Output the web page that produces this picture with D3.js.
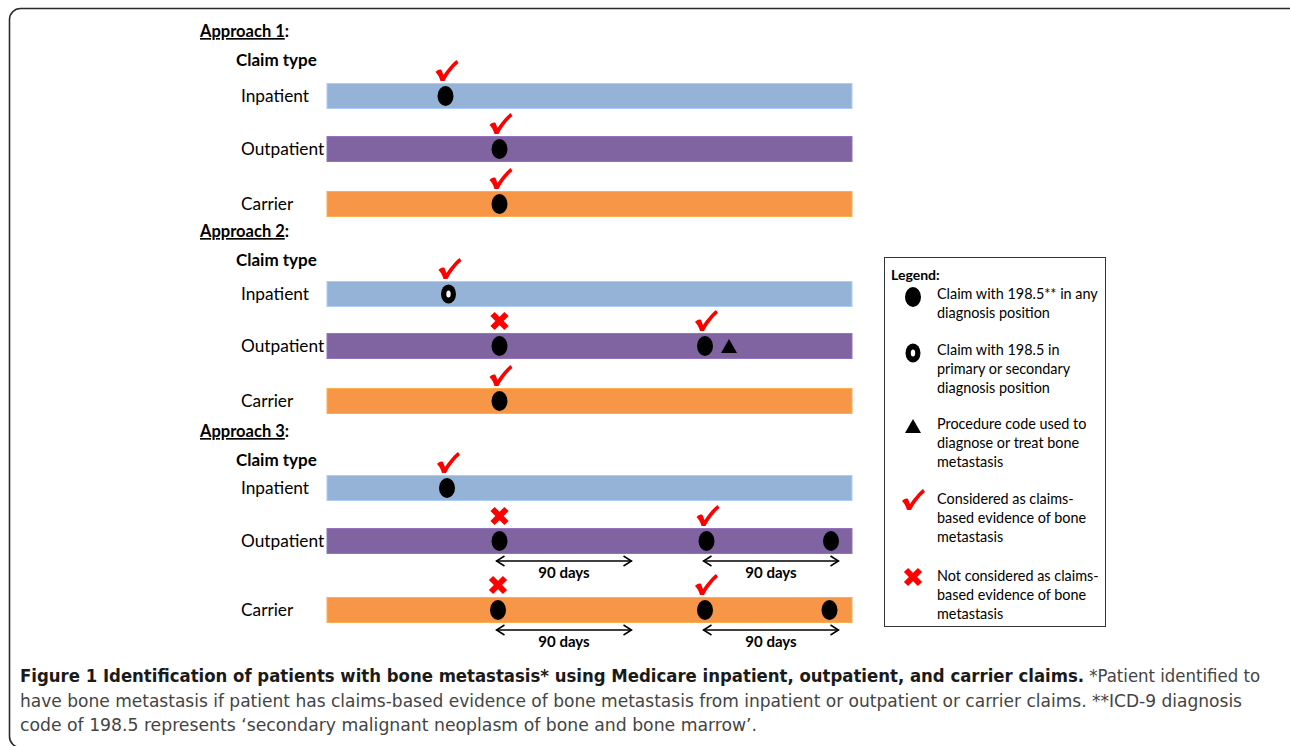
<!DOCTYPE html>
<html>
<head>
<meta charset="utf-8">
<script src="https://cdn.jsdelivr.net/npm/d3@7/dist/d3.min.js"></script>
<style>
  body { margin: 0; background: #fff; }
  svg { display: block; }
  .lbl { font-family: Lato, "Open Sans", sans-serif; fill: #000; }
</style>
</head>
<body>
<div id="vis"></div>
<script>
// ---------- DATA ----------
const approaches = ["Approach 1", "Approach 2", "Approach 3"];
const claimTypes = ["Inpatient", "Outpatient", "Carrier"];
const claimColors = ["#95B3D7", "#8064A2", "#F79646"];

// timeline in days, bar spans 0..350
const DAYS = [0, 350];
const WINDOW_DAYS = 90;

// [approach, claim type, day, symbol, evidence]
const claims = [
  [0, 0, 79, "dot", "check"],
  [0, 1, 115, "dot", "check"],
  [0, 2, 115, "dot", "check"],
  [1, 0, 81, "ring", "check"],
  [1, 1, 115, "dot", "cross"],
  [1, 1, 252, "dot", "check"],
  [1, 1, 268, "tri", null],
  [1, 2, 115, "dot", "check"],
  [2, 0, 80, "dot", "check"],
  [2, 1, 115, "dot", "cross"],
  [2, 1, 253, "dot", "check"],
  [2, 1, 336, "dot", null],
  [2, 2, 114, "dot", "cross"],
  [2, 2, 252, "dot", "check"],
  [2, 2, 335, "dot", null]
];

// [approach, claim type, start day]
const windows = [
  [2, 1, 113], [2, 1, 251],
  [2, 2, 113], [2, 2, 251]
];

const legendItems = [
  { sym: "dot", lines: ["Claim with 198.5** in any", "diagnosis position"] },
  { sym: "ring", lines: ["Claim with 198.5 in", "primary or secondary", "diagnosis position"] },
  { sym: "tri", lines: ["Procedure  code used to", "diagnose or treat bone", "metastasis"] },
  { sym: "check", lines: ["Considered as claims-", "based evidence of bone", "metastasis"] },
  { sym: "cross", lines: ["Not considered as claims-", "based evidence of bone", "metastasis"] }
];

const captionBold = "Figure 1 Identification of patients with bone metastasis* using Medicare inpatient, outpatient, and carrier claims.";
const captionLines = [
  " *Patient identified to",
  "have bone metastasis if patient has claims-based evidence of bone metastasis from inpatient or outpatient or carrier claims. **ICD-9 diagnosis",
  "code of 198.5 represents \u2018secondary malignant neoplasm of bone and bone marrow\u2019."
];

// ---------- LAYOUT ----------
const W = 1290, H = 746;
const BAR_H = 25;
const approachTop = [32, 232, 432];
const rowOffsets = [[64, 117, 172], [62, 114, 169], [56, 109, 178]];

const svg = d3.select("#vis").append("svg")
  .attr("width", W).attr("height", H);

svg.append("rect")
  .attr("x", 9.5).attr("y", 8.5)
  .attr("width", 1300).attr("height", 739)
  .attr("rx", 11)
  .attr("fill", "none").attr("stroke", "#2b2b2b").attr("stroke-width", 1.6);

const x = d3.scaleLinear().domain(DAYS).range([327, 852]);
const rowY = (a, c) => approachTop[a] + rowOffsets[a][c];

// ---------- SYMBOLS ----------
function drawSymbol(g, sym, cx, cy) {
  if (sym === "dot") {
    g.append("ellipse").attr("cx", cx).attr("cy", cy).attr("rx", 8).attr("ry", 10).attr("fill", "#000");
  } else if (sym === "ring") {
    g.append("ellipse").attr("cx", cx).attr("cy", cy).attr("rx", 7.5).attr("ry", 9.5).attr("fill", "#000");
    g.append("ellipse").attr("cx", cx).attr("cy", cy).attr("rx", 2.2).attr("ry", 3.6).attr("fill", "#fff");
  } else if (sym === "tri") {
    g.append("path")
      .attr("d", `M${cx - 8},${cy + 7} L${cx},${cy - 7} L${cx + 8},${cy + 7} Z`)
      .attr("fill", "#000");
  } else if (sym === "check") {
    g.append("path")
      .attr("transform", `translate(${cx},${cy})`)
      .attr("d", "M-11,1 C-9,-1 -7,-2 -5,-1 L-3,4 C1,-2 6,-8 10,-11 L12,-8 C6,-3 1,4 -2,10 L-6,10 C-7,6 -9,3 -11,1 Z")
      .attr("fill", "#F00");
  } else if (sym === "cross") {
    const gx = g.append("g").attr("transform", `translate(${cx},${cy})`)
      .attr("stroke", "#F00").attr("stroke-width", 6);
    gx.append("line").attr("x1", -7).attr("y1", -7).attr("x2", 7).attr("y2", 7);
    gx.append("line").attr("x1", 7).attr("y1", -7).attr("x2", -7).attr("y2", 7);
  }
}

// ---------- APPROACH PANELS ----------
approaches.forEach((name, a) => {
  const top = approachTop[a];
  const head = svg.append("text").attr("class", "lbl")
    .attr("x", 200).attr("y", top + 5)
    .attr("font-size", 16.5).attr("font-weight", "bold");
  head.append("tspan").attr("text-decoration", "underline").text(name);
  head.append("tspan").text(":");

  svg.append("text").attr("class", "lbl")
    .attr("x", 236).attr("y", top + 34)
    .attr("font-size", 17).attr("font-weight", "bold")
    .text("Claim type");

  claimTypes.forEach((ct, c) => {
    const cy = rowY(a, c);
    svg.append("text").attr("class", "lbl")
      .attr("x", 241).attr("y", cy + 6)
      .attr("font-size", 17.3)
      .text(ct);
    svg.append("rect")
      .attr("x", x(DAYS[0])).attr("y", cy - BAR_H / 2)
      .attr("width", x(DAYS[1]) - x(DAYS[0])).attr("height", BAR_H)
      .attr("fill", claimColors[c])
      .attr("stroke", d3.color(claimColors[c]).brighter(0.4)).attr("stroke-width", 1);
  });
});

// ---------- CLAIMS ----------
const markG = svg.append("g");
claims.forEach(([a, c, day, sym, ev]) => {
  const cx = x(day), cy = rowY(a, c);
  drawSymbol(markG, sym, cx, cy);
  if (ev) drawSymbol(markG, ev, cx + (ev === "check" ? 1 : 0), cy - 25);
});

// ---------- 90 DAY WINDOWS ----------
const arrowG = svg.append("g");
windows.forEach(([a, c, start]) => {
  const ay = rowY(a, c) + 20;
  const x1 = x(start), x2 = x(start + WINDOW_DAYS);
  arrowG.append("line").attr("x1", x1).attr("x2", x2).attr("y1", ay).attr("y2", ay)
    .attr("stroke", "#000").attr("stroke-width", 1.5);
  [[x1, 1], [x2, -1]].forEach(([px, dir]) => {
    arrowG.append("path")
      .attr("d", `M${px + dir * 8},${ay - 5} L${px},${ay} L${px + dir * 8},${ay + 5}`)
      .attr("fill", "none").attr("stroke", "#000").attr("stroke-width", 1.5);
  });
  arrowG.append("text").attr("class", "lbl")
    .attr("x", (x1 + x2) / 2).attr("y", ay + 17)
    .attr("text-anchor", "middle").attr("font-size", 15).attr("font-weight", "bold")
    .text(WINDOW_DAYS + " days");
});

// ---------- LEGEND ----------
const lg = svg.append("g");
lg.append("rect").attr("x", 884.5).attr("y", 257.5).attr("width", 221).attr("height", 369)
  .attr("fill", "#fff").attr("stroke", "#333").attr("stroke-width", 1);
lg.append("text").attr("class", "lbl").attr("x", 891).attr("y", 280)
  .attr("font-size", 14).attr("font-weight", "bold").text("Legend:");
const legendTop = [297, 353, 426, 500, 577];
const legendText = [294, 350, 424, 499, 576];
legendItems.forEach((it, i) => {
  const sy = legendTop[i];
  drawSymbol(lg, it.sym, 913, sy);
  it.lines.forEach((ln, j) => {
    lg.append("text").attr("class", "lbl")
      .attr("x", 937).attr("y", legendText[i] + 5 + j * 19)
      .attr("font-size", 14.4).text(ln);
  });
});

// ---------- CAPTION ----------
const cap = svg.append("g").attr("font-family", "'DejaVu Sans Condensed', 'Noto Sans', sans-serif");
const l1 = cap.append("text").attr("x", 20).attr("y", 682).attr("font-size", 17)
  .attr("textLength", 1240).attr("lengthAdjust", "spacingAndGlyphs");
l1.append("tspan").attr("font-weight", "bold").attr("fill", "#1a1a1a").text(captionBold);
l1.append("tspan").attr("fill", "#444").text(captionLines[0]);
cap.append("text").attr("x", 20).attr("y", 707).attr("font-size", 17).attr("fill", "#444")
  .attr("textLength", 1222).attr("lengthAdjust", "spacingAndGlyphs").text(captionLines[1]);
cap.append("text").attr("x", 20).attr("y", 731).attr("font-size", 17).attr("fill", "#444")
  .attr("textLength", 737).attr("lengthAdjust", "spacingAndGlyphs").text(captionLines[2]);
</script>
</body>
</html>
